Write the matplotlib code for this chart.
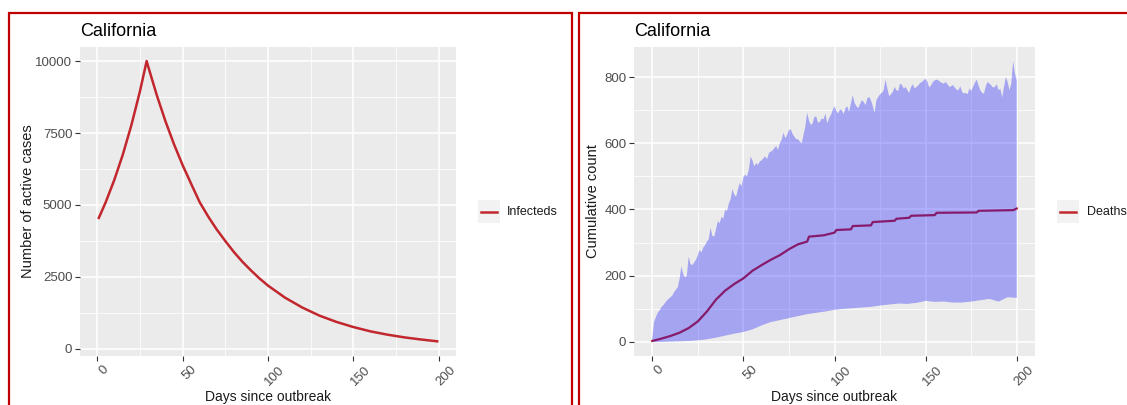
import numpy as np
import matplotlib
matplotlib.use("Agg")
import matplotlib.pyplot as plt
from matplotlib.patches import Rectangle
from matplotlib.ticker import MultipleLocator
import matplotlib.transforms as mtransforms

plt.rcParams['font.family'] = ['Liberation Sans', 'DejaVu Sans']

# ---------------- data ----------------
title = "California"
x_label = "Days since outbreak"

inf_days = [1, 5, 10, 15, 20, 25, 29, 30, 35, 40, 45, 50, 55, 60, 65, 70, 75, 80,
            85, 90, 95, 100, 110, 120, 130, 140, 150, 160, 170, 180, 190, 199]
inf_vals = [4550, 5090, 5860, 6740, 7760, 8930, 10000, 9790, 8800, 7910, 7110, 6390,
            5740, 5100, 4600, 4150, 3750, 3370, 3030, 2730, 2450, 2200, 1780, 1440,
            1160, 940, 760, 610, 495, 400, 325, 265]

up_days = list(range(0, 201))
up_vals = [10, 60, 75, 88, 95, 105, 110, 118, 125, 130,
           135, 140, 150, 158, 165, 190, 228, 205, 195, 200,
           258, 235, 232, 240, 248, 262, 278, 270, 285, 292,
           303, 310, 345, 320, 318, 340, 365, 358, 378, 372,
           400, 395, 418, 430, 462, 445, 438, 460, 480, 470,
           498, 505, 500, 520, 560, 548, 530, 540, 535, 545,
           548, 555, 560, 552, 570, 575, 578, 585, 592, 580,
           600, 610, 632, 615, 625, 640, 642, 628, 620, 612,
           612, 605, 600, 625, 650, 692, 668, 655, 660, 680,
           680, 662, 665, 675, 672, 690, 660, 675, 685, 700,
           712, 698, 690, 702, 700, 688, 705, 712, 695, 720,
           745, 722, 712, 706, 718, 730, 725, 715, 735, 740,
           730, 712, 692, 730, 740, 748, 752, 760, 792, 765,
           742, 748, 755, 770, 760, 758, 780, 776, 765, 770,
           760, 752, 770, 778, 765, 770, 775, 782, 785, 790,
           795, 785, 768, 775, 785, 790, 792, 790, 785, 782,
           780, 785, 778, 770, 772, 776, 768, 762, 760, 772,
           755, 750, 752, 748, 765, 758, 770, 782, 792, 775,
           760, 752, 750, 772, 785, 780, 775, 768, 770, 778,
           760, 765, 738, 770, 800, 785, 760, 780, 848, 810,
           790]

low_days = list(range(0, 201, 5))
low_vals = [0, 0, 1, 2, 3, 5, 8, 13, 19, 25, 30, 38, 50, 60, 66, 72, 78, 84, 88, 92,
            97, 100, 102, 104, 106, 110, 113, 116, 115, 118, 124, 121, 122, 119, 119,
            122, 126, 130, 122, 135, 133]

death_days = [0, 5, 10, 15, 20, 25, 30, 35, 40, 45, 50, 55, 60, 65, 70, 75, 80, 85, 86,
              94, 100, 101, 109, 110, 120, 121, 133, 134, 141, 142, 155, 156, 178, 179,
              198, 200]
death_vals = [3, 10, 18, 28, 42, 62, 92, 128, 155, 175, 192, 215, 232, 248, 262, 280,
              295, 303, 318, 322, 330, 338, 340, 350, 352, 362, 366, 372, 375, 381, 383,
              390, 391, 396, 398, 403]

x_ticks = [0, 50, 100, 150, 200]
left_yticks = [0, 2500, 5000, 7500, 10000]
right_yticks = [0, 200, 400, 600, 800]

# ---------------- style ----------------
W, H = 1127, 405
fig = plt.figure(figsize=(W / 100, H / 100), dpi=100)
fig.patch.set_facecolor("white")

RED = "#c1272d"
BG = "#ebebeb"


def px_axes(x0, x1, y0, y1):
    return fig.add_axes([x0 / W, 1 - y1 / H, (x1 - x0) / W, (y1 - y0) / H])


def style(ax, yticks, ylabel, minor_y, xcenter, ylab_x):
    ax.set_facecolor(BG)
    for s in ax.spines.values():
        s.set_visible(False)
    ax.set_xticks(x_ticks)
    ax.set_yticks(yticks)
    ax.xaxis.set_minor_locator(MultipleLocator(25))
    ax.yaxis.set_minor_locator(MultipleLocator(minor_y))
    ax.grid(which="major", color="white", lw=1.1)
    ax.grid(which="minor", color="white", lw=0.55)
    ax.set_axisbelow(True)
    ax.tick_params(which="major", color="#333333", length=3.5, width=0.8,
                   labelcolor="#4d4d4d", labelsize=9.5, pad=2)
    ax.tick_params(which="minor", length=0)
    ax.set_xticklabels([str(t) for t in x_ticks], rotation=45, ha="center", va="top")
    off = mtransforms.ScaledTranslation(7 / 100, 0, fig.dpi_scale_trans)
    for lab in ax.get_xticklabels():
        lab.set_transform(lab.get_transform() + off)
    fig.text(xcenter / W, 1 - 397 / H, x_label, fontsize=10, color="#1a1a1a",
             ha="center", va="center")
    ax.set_ylabel(ylabel, fontsize=10.5, color="#1a1a1a")
    ax.yaxis.set_label_coords(ylab_x, 0.5)
    ax.set_title(title, loc="left", fontsize=13, color="black", pad=8)
    ax.set_xlim(-10, 210)


# Left panel
ax1 = px_axes(80, 456, 47, 356)
ax1.plot(inf_days, inf_vals, color=RED, lw=1.8)
ax1.set_ylim(-245, 10488)
style(ax1, left_yticks, "Number of active cases", 1250, 268, (35 - 80) / 376)

# Right panel
ax2 = px_axes(634, 1035, 47, 356)
ax2.plot(death_days, death_vals, color=RED, lw=1.6, zorder=2)
ax2.fill(np.concatenate([up_days, low_days[::-1]]),
         np.concatenate([up_vals, low_vals[::-1]]),
         color="blue", alpha=0.3, lw=0, zorder=3)
ax2.set_ylim(-42.4, 890.6)
style(ax2, right_yticks, "Cumulative count", 100, 834, (600 - 634) / 401)


# Legends (drawn manually in figure pixel coordinates)
def legend(x_key, x_text, label):
    fig.patches.append(Rectangle((x_key / W, 1 - 223 / H), 22 / W, 23 / H,
                                 transform=fig.transFigure, facecolor="#f2f2f2",
                                 edgecolor="none"))
    fig.lines.append(plt.Line2D([(x_key + 3) / W, (x_key + 19) / W],
                                [1 - 212 / H, 1 - 212 / H], transform=fig.transFigure,
                                color=RED, lw=1.8))
    fig.text(x_text / W, 1 - 212 / H, label, fontsize=9, color="#1a1a1a",
             va="center", ha="left")


legend(478, 507, "Infecteds")
legend(1057, 1087, "Deaths")

# Red panel borders
BORDER = "#c00000"
fig.patches.append(Rectangle((9 / W, -0.05), 563 / W, 1.05 - 12.7 / H,
                             transform=fig.transFigure, facecolor="none",
                             edgecolor=BORDER, lw=1.6))
fig.patches.append(Rectangle((578.5 / W, -0.05), 600 / W, 1.05 - 12.7 / H,
                             transform=fig.transFigure, facecolor="none",
                             edgecolor=BORDER, lw=1.6))

fig.savefig("out.png", dpi=100, facecolor="white")
